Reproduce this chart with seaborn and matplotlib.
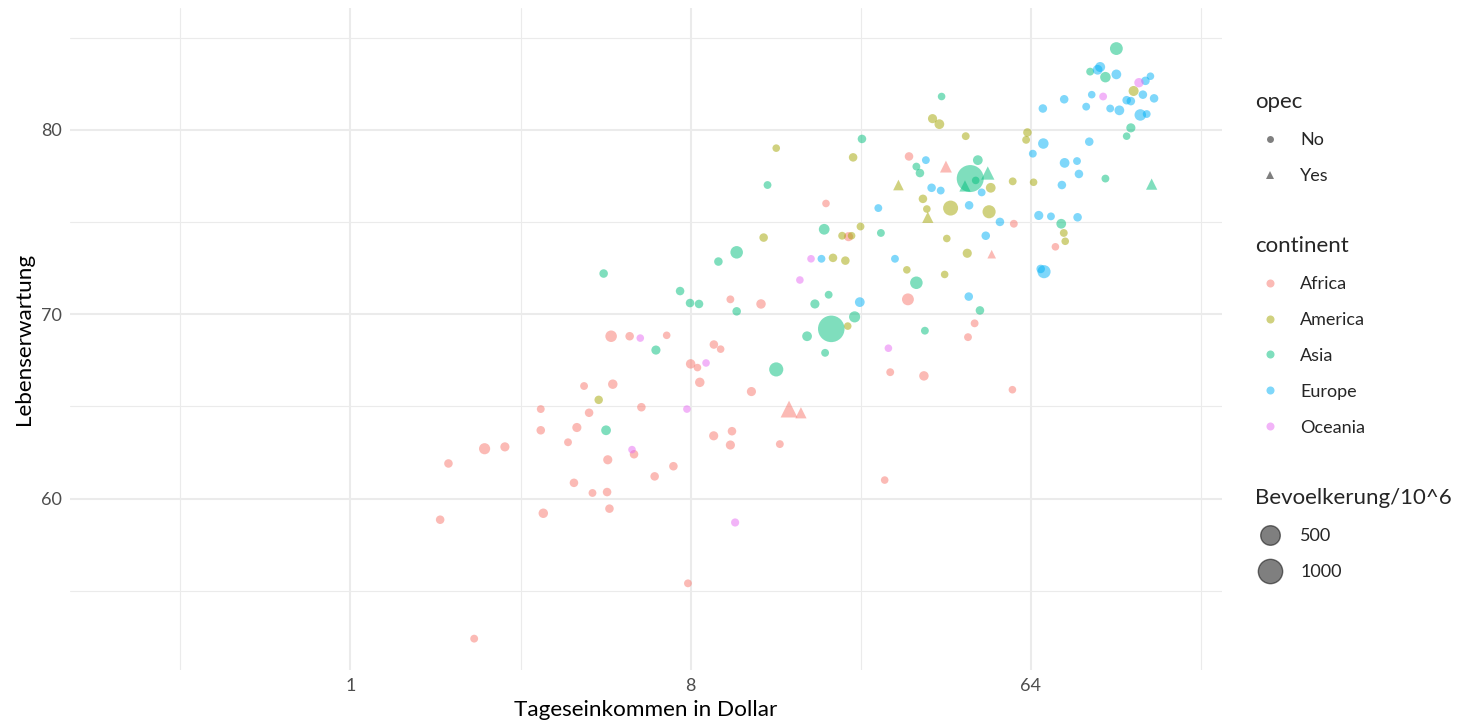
import matplotlib
matplotlib.use('Agg')
import matplotlib.pyplot as plt
from matplotlib.colors import PowerNorm
from matplotlib.lines import Line2D
import seaborn as sns
import pandas as pd

# werte (tageseinkommen in dollar, lebenserwartung, bevoelkerung in mio)
africa_income = [4.92, 5.51, 6.91, 4.17, 4.97, 3.20, 4.30, 5.92, 3.20, 3.99, 3.78, 2.27, 2.57, 5.66,
                 1.82, 4.82, 7.20, 6.42, 3.92, 4.39, 4.80, 4.87, 3.25, 1.73, 7.87, 2.13, 30.4, 18.3,
                 21.0, 30.2, 10.2, 12.3, 9.22, 9.61, 8.00, 8.34, 8.46, 27.1, 33.3, 11.6, 14.6, 15.7,
                 9.21, 10.3, 10.2, 13.8, 26.2, 38.1, 57.7, 74.4, 50.4, 45.4, 43.6, 57.2]
africa_life = [68.8, 68.8, 68.85, 66.1, 66.2, 64.85, 64.65, 64.95, 63.7, 63.85, 63.05, 62.7, 62.8, 62.4,
               61.9, 62.1, 61.75, 61.2, 60.85, 60.3, 60.35, 59.45, 59.2, 58.85, 55.4, 52.4, 78.55, 76.0,
               74.2, 70.8, 70.8, 70.55, 68.35, 68.1, 67.3, 67.1, 66.3, 66.85, 66.65, 65.8, 64.85, 64.65,
               63.4, 63.65, 62.9, 62.95, 61.0, 78.0, 74.9, 73.65, 73.25, 69.5, 68.75, 65.9]
africa_pop = [70, 12, 3, 5, 25, 5, 12, 12, 12, 20, 5, 60, 20, 12,
              12, 20, 12, 12, 12, 5, 12, 12, 25, 12, 5, 5, 12, 3,
              20, 80, 5, 25, 12, 3, 25, 3, 25, 5, 25, 20, 300, 63,
              20, 12, 20, 5, 3, 80, 5, 3, 13, 5, 5, 3]
africa_opec = [40, 41, 47, 50]  # positionen der opec-laender

america_income = [4.56, 13.5, 21.6, 28.5, 20.2, 21.4, 22.6, 12.5, 19.1, 20.6, 30.0, 20.9, 35.1, 36.6,
                  43.0, 62.7, 62.2, 57.3, 65.1, 50.1, 33.1, 33.9, 39.2, 34.1, 49.6, 38.3, 78.3, 79.0,
                  43.4, 37.8, 120.0]
america_life = [65.35, 79.0, 78.5, 77.0, 74.25, 74.25, 74.75, 74.15, 73.05, 72.9, 72.4, 69.35, 80.6, 80.3,
                79.65, 79.85, 79.45, 77.2, 77.15, 76.85, 76.25, 75.7, 75.75, 75.25, 75.55, 74.1, 74.4, 73.95,
                73.3, 72.15, 82.1]
america_pop = [11, 3, 12, 48, 5, 3, 5, 12, 12, 12, 3, 3, 20, 30,
               5, 12, 5, 5, 3, 30, 12, 3, 200, 63, 120, 3, 5, 3,
               20, 3, 35]
america_opec = [3, 23]

asia_income = [6.47, 4.77, 4.70, 31.8, 32.5, 12.8, 18.1, 25.6, 10.6, 9.48, 31.8, 18.6, 7.50, 7.97,
               8.42, 10.6, 17.1, 21.8, 18.9, 16.3, 18.2, 13.5, 46.3, 44.2, 45.7, 49.2, 42.8, 101.0,
               77.1, 46.9, 33.5, 108.0, 92.0, 101.0, 118.0, 115.0, 134.0, 37.1, 22.8]
asia_life = [68.05, 63.7, 72.2, 78.0, 77.65, 77.0, 74.6, 74.4, 73.35, 72.85, 71.7, 71.05, 71.25, 70.6,
             70.55, 70.15, 70.55, 69.85, 69.2, 68.8, 67.9, 67.0, 78.35, 77.35, 77.25, 77.65, 76.95, 77.35,
             74.9, 70.2, 69.1, 84.4, 83.15, 82.85, 80.1, 79.65, 77.05, 81.8, 79.5]
asia_pop = [20, 30, 12, 5, 12, 5, 50, 5, 100, 12, 100, 5, 12, 12,
            12, 12, 20, 60, 1300, 30, 5, 160, 30, 1370, 3, 126, 63, 5,
            30, 12, 5, 110, 5, 45, 20, 3, 63, 3, 12]
asia_opec = [25, 26, 36]

europe_income = [25.2, 17.8, 27.9, 22.5, 68.9, 78.5, 89.8, 104.0, 110.0, 69.1, 91.5, 64.8, 33.7, 78.7,
                 84.9, 85.9, 77.4, 47.4, 34.9, 36.9, 43.9, 53.0, 48.6, 67.2, 72.4, 85.2, 68.0, 69.4,
                 43.8, 96.3, 97.8, 108.0, 129.0, 133.0, 92.9, 115.0, 118.0, 127.0, 136.0, 125.0, 130.0]
europe_life = [75.75, 73.0, 73.0, 70.65, 81.15, 81.65, 81.25, 81.15, 81.05, 79.25, 79.35, 78.7, 78.35, 78.2,
               78.3, 77.6, 77.0, 76.6, 76.85, 76.7, 75.9, 75.0, 74.25, 75.35, 75.3, 75.25, 72.45, 72.3,
               70.95, 83.25, 83.4, 83.0, 82.65, 82.9, 81.9, 81.6, 81.55, 81.9, 81.7, 80.8, 80.85]
europe_pop = [5, 5, 5, 30, 12, 12, 5, 5, 30, 45, 12, 5, 5, 30,
              5, 12, 12, 5, 12, 5, 12, 12, 12, 20, 5, 12, 12, 120,
              12, 30, 35, 30, 12, 3, 3, 12, 12, 12, 12, 70, 5]
europe_opec = []

oceania_income = [5.88, 5.59, 10.5, 16.7, 15.6, 26.8, 8.79, 7.82, 124.0, 99.6]
oceania_life = [68.7, 62.65, 58.7, 73.0, 71.85, 68.15, 67.35, 64.85, 82.55, 81.8]
oceania_pop = [3, 3, 8, 3, 3, 3, 3, 3, 24, 5]
oceania_opec = []

continents = ['Africa', 'America', 'Asia', 'Europe', 'Oceania']
farben = ['#F8766D', '#A3A500', '#00BF7D', '#00B0F6', '#E76BF3']

frames = []
for name, inc, life, pop, opec in [
        ('Africa', africa_income, africa_life, africa_pop, africa_opec),
        ('America', america_income, america_life, america_pop, america_opec),
        ('Asia', asia_income, asia_life, asia_pop, asia_opec),
        ('Europe', europe_income, europe_life, europe_pop, europe_opec),
        ('Oceania', oceania_income, oceania_life, oceania_pop, oceania_opec)]:
    d = pd.DataFrame({'income': inc, 'life': life, 'pop': pop})
    d['continent'] = name
    d['opec'] = ['Yes' if i in opec else 'No' for i in range(len(d))]
    frames.append(d)
df = pd.concat(frames, ignore_index=True)

sns.set_theme(style='white')
plt.rcParams['font.family'] = ['Lato', 'DejaVu Sans']

fig = plt.figure(figsize=(14.57, 7.21), dpi=100)
ax = fig.add_axes([70 / 1457, 51 / 721, 1152 / 1457, 662 / 721])

pop_norm = PowerNorm(gamma=0.7, vmin=0, vmax=1370)
size_range = (25, 378)

sns.scatterplot(data=df, x='income', y='life', hue='continent', style='opec', size='pop',
                hue_order=continents, palette=farben, markers={'No': 'o', 'Yes': '^'},
                sizes=size_range, size_norm=pop_norm, alpha=0.5, linewidth=0,
                legend=False, ax=ax, zorder=3)

ax.set_xscale('log', base=2)
ax.set_xlim(0.18, 206)
ax.set_ylim(50.7, 86.6)
ax.set_xticks([1, 8, 64])
ax.set_xticklabels(['1', '8', '64'])
ax.set_xticks([8 ** -0.5, 8 ** 0.5, 8 ** 1.5, 8 ** 2.5], minor=True)
ax.set_yticks([60, 70, 80])
ax.set_yticks([55, 65, 75, 85], minor=True)
ax.xaxis.set_minor_formatter(plt.NullFormatter())
ax.grid(which='major', color='#EBEBEB', linewidth=1.5)
ax.grid(which='minor', color='#EBEBEB', linewidth=0.8)
ax.set_axisbelow(True)
for s in ax.spines.values():
    s.set_visible(False)
ax.tick_params(which='both', length=0, labelsize=13, labelcolor='#4D4D4D', pad=6)
ax.set_xlabel('Tageseinkommen in Dollar', fontsize=16.2, color='black', labelpad=4)
ax.set_ylabel('Lebenserwartung', fontsize=16.2, color='black', labelpad=5)

# legenden
grau = (0, 0, 0, 0.5)
opec_handles = [Line2D([], [], linestyle='', marker='o', markersize=5, color=grau, markeredgewidth=0),
                Line2D([], [], linestyle='', marker='^', markersize=6, color=grau, markeredgewidth=0)]
cont_handles = [Line2D([], [], linestyle='', marker='o', markersize=5.8, color=c, alpha=0.5,
                       markeredgewidth=0) for c in farben]
size_handles = []
for p in [500, 1000]:
    area = size_range[0] + (size_range[1] - size_range[0]) * float(pop_norm(p))
    size_handles.append(Line2D([], [], linestyle='', marker='o', markersize=area ** 0.5,
                               markerfacecolor=grau, markeredgecolor=grau, markeredgewidth=1))

common = dict(loc='upper left', frameon=False, fontsize=13, title_fontsize=16,
              alignment='left', handletextpad=0.9, labelspacing=1.1, borderaxespad=0,
              handlelength=1.6)
l1 = fig.legend(opec_handles, ['No', 'Yes'], title='opec',
                bbox_to_anchor=(1248 / 1457, 1 - 85 / 721), **common)
l2 = fig.legend(cont_handles, continents, title='continent',
                bbox_to_anchor=(1248 / 1457, 1 - 229 / 721), **common)
l3 = fig.legend(size_handles, ['500', '1000'], title='Bevoelkerung/10^6',
                bbox_to_anchor=(1248 / 1457, 1 - 481 / 721), **common)

fig.savefig('out.png', dpi=100)
